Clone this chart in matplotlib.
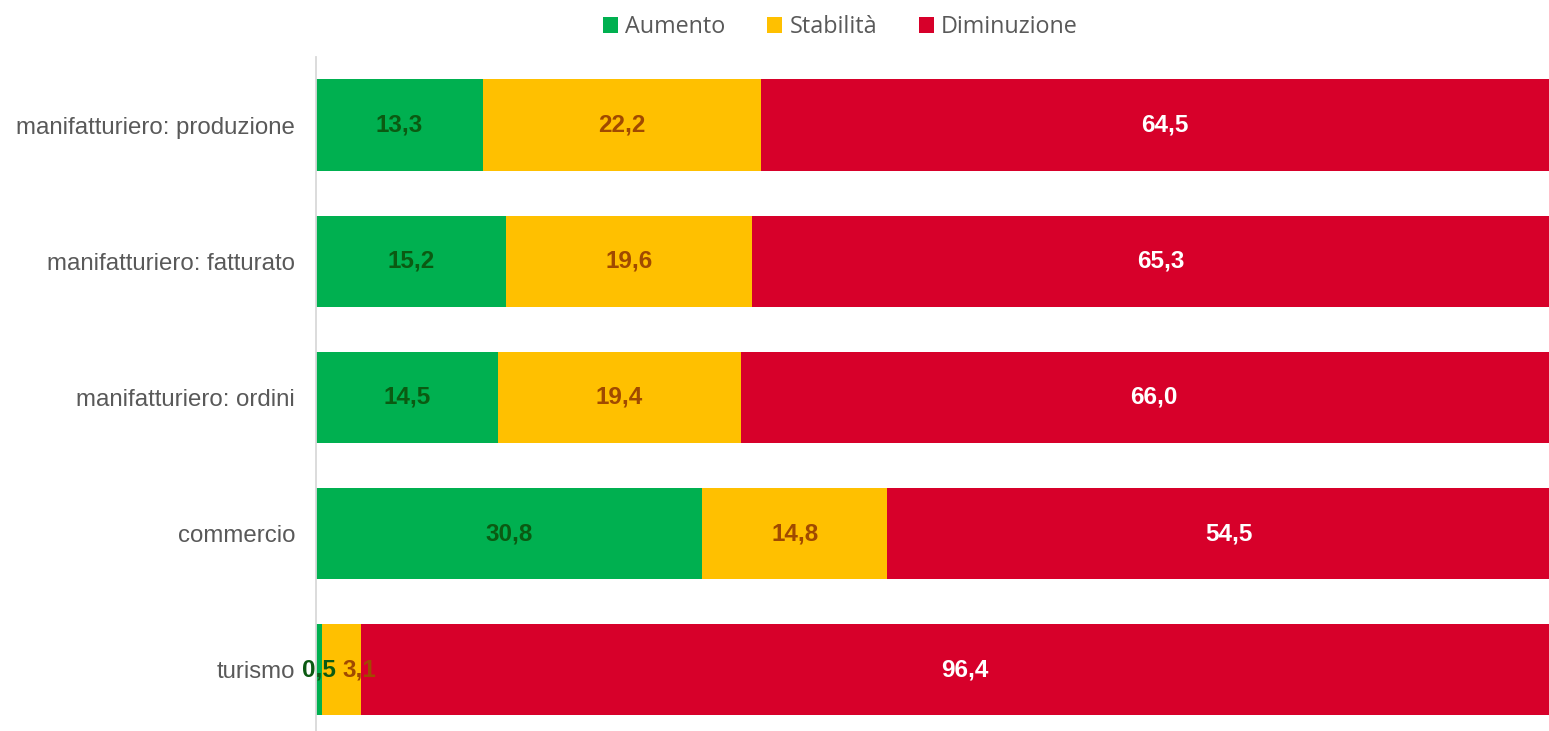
import matplotlib.pyplot as plt
import numpy as np

# dati (%)
categorie = ['manifatturiero: produzione', 'manifatturiero: fatturato',
             'manifatturiero: ordini', 'commercio', 'turismo']
aumento = [13.3, 15.2, 14.5, 30.8, 0.5]
stabilita = [22.2, 19.6, 19.4, 14.8, 3.1]
diminuzione = [64.5, 65.3, 66.0, 54.5, 96.4]

serie = [('Aumento', aumento, '#00B050', '#0B5A12'),
         ('Stabilità', stabilita, '#FFC000', '#A04A00'),
         ('Diminuzione', diminuzione, '#D7002A', 'white')]

fig = plt.figure(figsize=(15.49, 7.31), dpi=100)
ax = fig.add_axes([316 / 1549, 0.0, 1 - 316 / 1549, 1 - 57 / 731])

y = np.arange(len(categorie))
left = np.zeros(len(categorie))
for k, (nome, valori, colore, col_testo) in enumerate(serie):
    valori = np.array(valori)
    ax.barh(y, valori, left=left, height=0.67, color=colore, label=nome)
    for yi, l, v in zip(y, left, valori):
        # etichette su segmenti troppo stretti: spostate a destra come in Excel
        dx = 13 if (v < 5 and k > 0) else 0
        ax.annotate(f'{v:.1f}'.replace('.', ','), (l + v / 2, yi), xytext=(dx, 0),
                    textcoords='offset points', ha='center', va='center',
                    color=col_testo, fontsize=17.5, fontweight='bold',
                    family='Liberation Sans')
    left += valori

# nell'originale l'asse arriva a 100 oltre il bordo dell'immagine
ax.set_xlim(0, 98.4)
ax.set_ylim(4.45, -0.5)
ax.set_yticks(y)
ax.set_yticklabels(categorie, fontsize=17.3, color='#595959', family='Liberation Sans')
ax.tick_params(axis='y', length=0, pad=15)
ax.set_xticks([])
for s in ['top', 'right', 'bottom']:
    ax.spines[s].set_visible(False)
ax.spines['left'].set_color('#D9D9D9')
ax.spines['left'].set_linewidth(1.3)

fig.legend(loc='upper center', bbox_to_anchor=(0.5425, 1.008), ncol=3, frameon=False,
           prop={'family': 'Open Sans', 'size': 16.8}, labelcolor='#595959',
           handlelength=0.65, handleheight=0.65, handletextpad=0.3, columnspacing=1.8)

fig.savefig('out.png', dpi=100)
